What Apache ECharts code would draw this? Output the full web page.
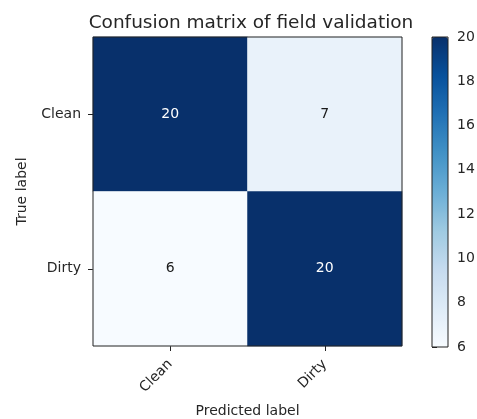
<!DOCTYPE html>
<html><head><meta charset="utf-8">
<script src="https://cdn.jsdelivr.net/npm/echarts@6/dist/echarts.min.js"></script>
<style>html,body{margin:0;padding:0;background:#fff}#c{width:477px;height:419px}</style>
</head><body><div id="c"></div>
<script>
const predictedLabels = ['Clean', 'Dirty'];
const trueLabels = ['Clean', 'Dirty'];
// rows = true label, columns = predicted label
const matrixRow0 = [20, 7];
const matrixRow1 = [6, 20];
const colorbarTicks = [6, 8, 10, 12, 14, 16, 18, 20];

const rows = [matrixRow0, matrixRow1];
const vmin = 6, vmax = 20;
const thresh = vmax / 2;
const data = [];
rows.forEach((row, yi) => row.forEach((v, xi) => {
  data.push({ value: [xi, yi, v], label: { color: v > thresh ? '#ffffff' : '#1a1a1a' } });
}));

const FONT = 'DejaVu Sans';
const TXT = '#262626';
const chart = echarts.init(document.getElementById('c'), null, { renderer: 'canvas' });
chart.setOption({
  animation: false,
  backgroundColor: '#fff',
  textStyle: { fontFamily: FONT },
  title: {
    text: 'Confusion matrix of field validation',
    left: 246, top: 9, textAlign: 'center',
    textStyle: { fontFamily: FONT, fontSize: 18.5, fontWeight: 'normal', color: TXT }
  },
  grid: [
    { left: 93, top: 37, width: 309, height: 309, show: true, borderColor: '#222', borderWidth: 1, backgroundColor: 'transparent', z: 10, outerBoundsMode: 'none', containLabel: false },
    { left: 432, top: 37, width: 16, height: 310, show: true, borderColor: '#222', borderWidth: 1, backgroundColor: 'transparent', z: 10, outerBoundsMode: 'none', containLabel: false }
  ],
  xAxis: [
    { type: 'category', data: predictedLabels, gridIndex: 0, name: 'Predicted label', nameLocation: 'middle', nameGap: 58,
      nameTextStyle: { fontFamily: FONT, fontSize: 14, color: TXT },
      axisLine: { show: false }, splitLine: { show: false },
      axisTick: { show: true, alignWithLabel: true, length: 5, lineStyle: { color: '#222' } },
      axisLabel: { rotate: 45, fontFamily: FONT, fontSize: 14, color: TXT, margin: 16, padding: [20, 0, 0, 0] } },
    { type: 'value', gridIndex: 1, show: false, min: 0, max: 1 }
  ],
  yAxis: [
    { type: 'category', data: trueLabels, gridIndex: 0, inverse: true, name: 'True label', nameLocation: 'middle', nameGap: 64,
      nameTextStyle: { fontFamily: FONT, fontSize: 14, color: TXT },
      axisLine: { show: false }, splitLine: { show: false },
      axisTick: { show: true, alignWithLabel: true, length: 5, lineStyle: { color: '#222' } },
      axisLabel: { fontFamily: FONT, fontSize: 14, color: TXT, margin: 12 } },
    { type: 'value', gridIndex: 1, position: 'right', min: vmin, max: vmax, interval: 2,
      axisLine: { show: false }, splitLine: { show: false },
      axisTick: { show: true, length: 5, lineStyle: { color: '#222' } },
      axisLabel: { fontFamily: FONT, fontSize: 14, color: TXT, margin: 9,
        formatter: v => colorbarTicks.includes(v) ? String(v) : '' } }
  ],
  visualMap: {
    type: 'continuous', min: vmin, max: vmax, seriesIndex: 0, calculable: false,
    orient: 'vertical', left: 432, top: 37, itemWidth: 16, itemHeight: 310, padding: 0,
    text: null, showLabel: false, hoverLink: false,
    inRange: { color: ['#f7fbff', '#deebf7', '#c6dbef', '#9ecae1', '#6baed6', '#4292c6', '#2171b5', '#08519c', '#08306b'] }
  },
  series: [{
    type: 'heatmap', xAxisIndex: 0, yAxisIndex: 0, data: data,
    label: { show: true, fontFamily: FONT, fontSize: 14, formatter: p => String(p.value[2]) },
    itemStyle: { borderWidth: 0 },
    emphasis: { disabled: true }
  }]
});
</script></body></html>
